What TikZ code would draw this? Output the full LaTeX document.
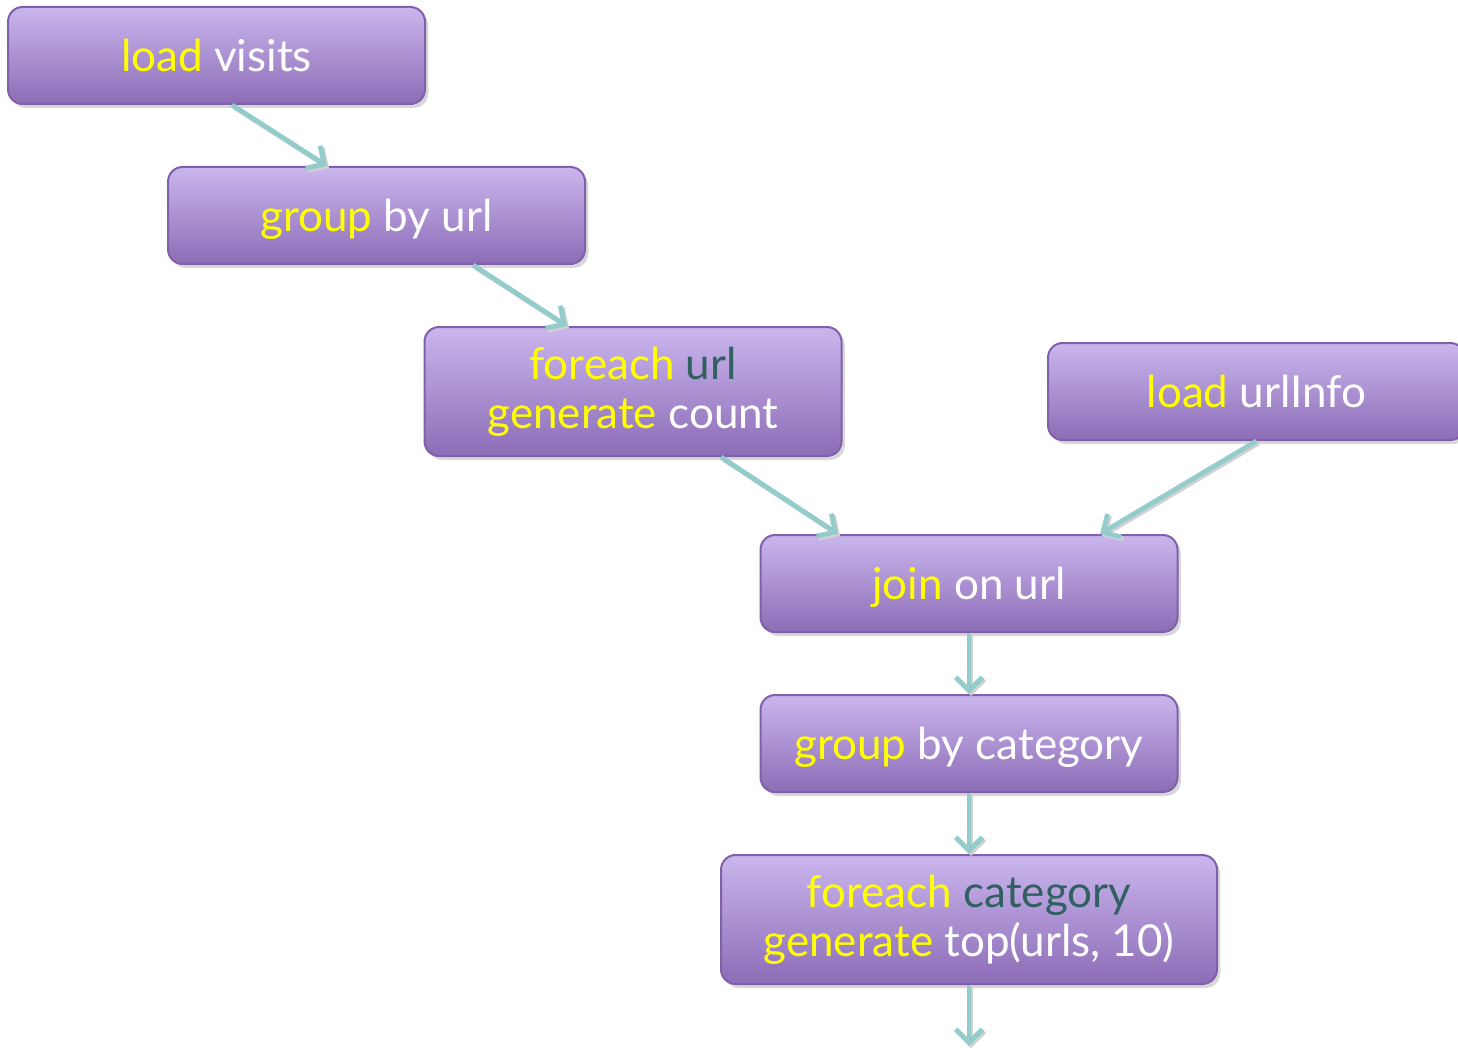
\documentclass[tikz,border=0pt]{standalone}
\usepackage{fontspec}
\setmainfont{Lato}
\usetikzlibrary{arrows.meta,shadows}
\definecolor{boxtop}{RGB}{202,182,238}
\definecolor{boxbot}{RGB}{140,108,182}
\definecolor{boxedge}{RGB}{128,96,168}
\definecolor{arrowc}{RGB}{148,204,204}
\definecolor{kwc}{RGB}{255,255,0}
\definecolor{idc}{RGB}{48,96,96}
\newcommand{\kw}[1]{\textcolor{kwc}{#1}}
\newcommand{\idt}[1]{\textcolor{idc}{#1}}
\tikzset{
  opbox/.style={draw=boxedge, line width=1.5pt, rounded corners=11pt,
    top color=boxtop, bottom color=boxbot, text=white,
    minimum width=312.75pt, minimum height=72.75pt, inner sep=0pt,
    align=center, font=\fontsize{33}{37}\selectfont,
    drop shadow={shadow xshift=2.5pt, shadow yshift=-3pt, fill=black!22, opacity=0.7}},
  oneline/.style={text depth=0pt},
  flow/.style={draw=arrowc, line width=3.6pt,
    -{Straight Barb[length=10pt,width=20pt]},
    preaction={draw=black!18, line width=3.6pt, transform canvas={shift={(1.5pt,-1.5pt)}}}}
}
\begin{document}
\begin{tikzpicture}[x=0.75pt,y=-0.75pt]
\useasboundingbox (0,0) rectangle (1458,1048);
\node[opbox, oneline] (lv) at (216.5,55.5) {\kw{load} visits};
\node[opbox, oneline] (gu) at (376.5,215.5) {\kw{group} by url};
\node[opbox, minimum height=96.75pt] (fu) at (633,391.5) {\kw{foreach} \idt{url}\\\kw{generate} count};
\node[opbox, oneline] (lu) at (1256.5,391.5) {\kw{load} urlInfo};
\node[opbox, oneline] (jo) at (969,583.5) {\kw{join} on url};
\node[opbox, oneline] (gc) at (969,743.5) {\kw{group} by category};
\node[opbox, minimum width=372pt, minimum height=96.75pt] (fc) at (969,919.5) {\kw{foreach} \idt{category}\\\kw{generate} top(urls, 10)};
\coordinate (out) at (969,1046);
\draw[flow] (lv.south -| 232,0) -- (gu.north -| 327,0);
\draw[flow] (gu.south -| 473,0) -- (fu.north -| 567,0);
\draw[flow] (fu.south -| 721,0) -- (jo.north -| 838,0);
\draw[flow] (lu.south) -- (jo.north -| 1100,0);
\draw[flow] (jo.south) -- (gc.north);
\draw[flow] (gc.south) -- (fc.north);
\draw[flow] (fc.south) -- (out);
\end{tikzpicture}
\end{document}
